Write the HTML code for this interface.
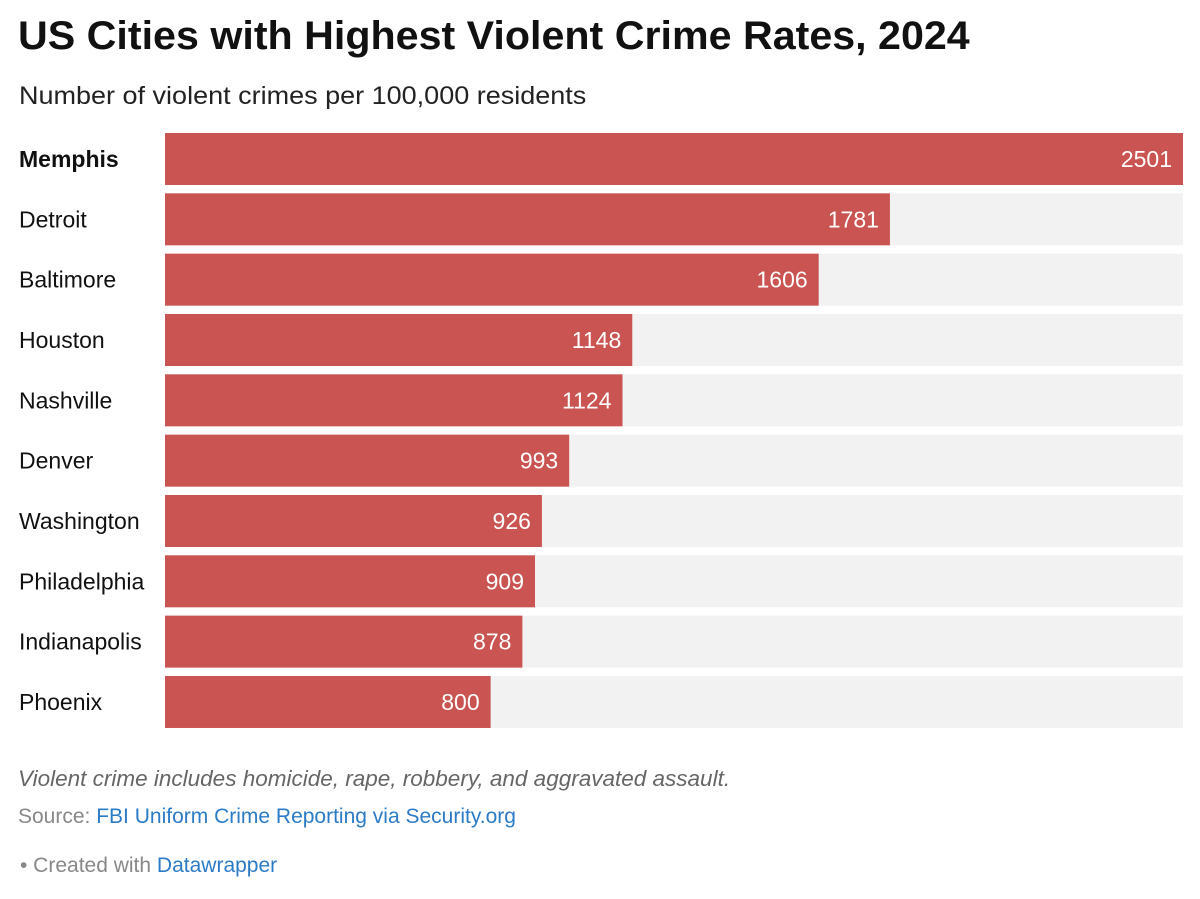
<!DOCTYPE html>
<html><head><meta charset="utf-8"><style>
body{margin:0;width:1200px;height:899px;background:#fff;font-family:"Liberation Sans",sans-serif;position:relative;overflow:hidden}
.t{position:absolute;white-space:nowrap}
a{color:#2c7bc6;text-decoration:none}
</style></head><body>
<div class="t" style="left:18px;top:14px;font-size:40px;font-weight:bold;color:#111;transform:scaleX(1.03);transform-origin:0 0">US Cities with Highest Violent Crime Rates, 2024</div>
<div class="t" style="left:19px;top:82px;font-size:25px;color:#222;transform:scaleX(1.08);transform-origin:0 0">Number of violent crimes per 100,000 residents</div>
<svg id="chart" width="1200" height="740" style="position:absolute;left:0;top:0"></svg>
<div class="t" style="left:18px;top:766px;font-size:22.5px;font-style:italic;color:#666">Violent crime includes homicide, rape, robbery, and aggravated assault.</div>
<div class="t" style="left:18px;top:805px;font-size:21px;color:#888">Source: <a>FBI Uniform Crime Reporting via Security.org</a></div>
<div class="t" style="left:20px;top:854px;font-size:21px;color:#888">• Created with <a>Datawrapper</a></div>
<script>
const cities=["Memphis","Detroit","Baltimore","Houston","Nashville","Denver","Washington","Philadelphia","Indianapolis","Phoenix"];
const rates=[2501,1781,1606,1148,1124,993,926,909,878,800];
const maxVal=2501;
const svg=document.getElementById('chart');
const NS='http://www.w3.org/2000/svg';
const x0=165,x1=1183,top0=133,pitch=60.33,bh=52;
const xs=v=>x0+(v/maxVal)*(x1-x0);
cities.forEach((c,i)=>{
  const y=top0+i*pitch;
  const bg=document.createElementNS(NS,'rect');
  bg.setAttribute('x',x0);bg.setAttribute('y',y);bg.setAttribute('width',x1-x0);bg.setAttribute('height',bh);bg.setAttribute('fill','#f2f2f2');
  
  
  svg.appendChild(bg);
  const r=document.createElementNS(NS,'rect');
  r.setAttribute('x',x0);r.setAttribute('y',y);r.setAttribute('width',xs(rates[i])-x0);r.setAttribute('height',bh);r.setAttribute('fill','#c95451');
  
  
  svg.appendChild(r);
  const l=document.createElementNS(NS,'text');
  l.setAttribute('x',19);l.setAttribute('y',y+bh/2+8);l.setAttribute('font-size','23');l.setAttribute('fill','#111');
  if(i===0)l.setAttribute('font-weight','bold');
  l.textContent=c;
  
  
  svg.appendChild(l);
  const v=document.createElementNS(NS,'text');
  v.setAttribute('x',xs(rates[i])-11);v.setAttribute('y',y+bh/2+8);v.setAttribute('font-size','23');v.setAttribute('fill','#fff');v.setAttribute('text-anchor','end');
  v.textContent=rates[i];
  
  
  svg.appendChild(v);
});
</script>
</body></html>
